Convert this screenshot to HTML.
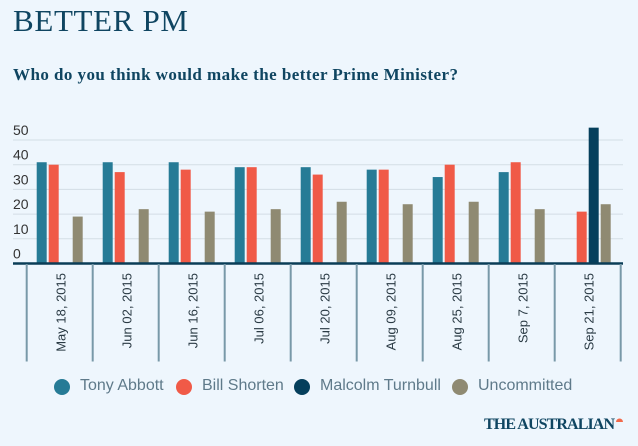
<!DOCTYPE html>
<html><head><meta charset="utf-8"><style>
body{margin:0;background:#eef6fd;}
svg{display:block;font-family:"Liberation Sans",sans-serif;}
</style></head><body>
<svg id="c" width="638" height="446" viewBox="0 0 638 446">
<rect width="638" height="446" fill="#eef6fd"/>
<text x="13" y="31" font-family="Liberation Serif, serif" font-size="31" fill="#0f4561" textLength="175">BETTER PM</text>
<text x="13" y="80" font-family="Liberation Serif, serif" font-weight="bold" font-size="17" fill="#0f4561" textLength="445">Who do you think would make the better Prime Minister?</text>
<g id="grid"></g><g id="bars"></g><g id="xaxis"></g>
<g id="legend"></g>
<text x="484" y="429" font-family="Liberation Serif, serif" font-weight="bold" font-size="16" fill="#0f4561" textLength="131">THE AUSTRALIAN</text>
<path d="M616 422 a3.5 3.5 0 0 1 7 0 z" fill="#f26a4b"/>
</svg>
<script>
const categories=["May 18, 2015","Jun 02, 2015","Jun 16, 2015","Jul 06, 2015","Jul 20, 2015","Aug 09, 2015","Aug 25, 2015","Sep 7, 2015","Sep 21, 2015"];
const abbott=[41,41,41,39,39,38,35,37,null];
const shorten=[40,37,38,39,36,38,40,41,21];
const turnbull=[null,null,null,null,null,null,null,null,55];
const uncommitted=[19,22,21,22,25,24,25,22,24];
const seriesNames=["Tony Abbott","Bill Shorten","Malcolm Turnbull","Uncommitted"];
const yTicks=[0,10,20,30,40,50];

const NS="http://www.w3.org/2000/svg";
const colors=["#267b96","#f05a47","#053f5c","#8f8a72"];
const series=[abbott,shorten,turnbull,uncommitted];
const x0=26.7,gw=66,y0=263.5,k=2.47;
const yS=v=>y0-v*k;
const xG=i=>x0+i*gw;
function mk(t,a,p){const e=document.createElementNS(NS,t);for(const q in a)e.setAttribute(q,a[q]);p.appendChild(e);return e;}
const grid=document.getElementById('grid');
yTicks.forEach(v=>{
  if(v>0){const l=mk('line',{x1:13,x2:623,y1:yS(v),y2:yS(v),stroke:'#d3dde5','stroke-width':1},grid);
  
  }
  const t=mk('text',{x:13,y:yS(v)-5,'font-size':14,fill:'#333'},grid);t.textContent=v;
  
  
});
const bars=document.getElementById('bars');
categories.forEach((c,i)=>{
  series.forEach((s,j)=>{
    const v=s[i]; if(v==null) return;
    const r=mk('rect',{x:xG(i)+10+j*12,y:yS(v),width:10,height:v*k,fill:colors[j]},bars);
    
    
  });
});
const xa=document.getElementById('xaxis');
const al=mk('line',{x1:13,x2:623,y1:263.5,y2:263.5,stroke:'#0a3d57','stroke-width':2.5},xa);


for(let i=0;i<=categories.length;i++){
  const l=mk('line',{x1:xG(i),x2:xG(i),y1:264,y2:361.5,stroke:'#7899a8','stroke-width':2},xa);
  
  
}
categories.forEach((c,i)=>{
  const cx=xG(i)+gw/2+1,cy=273;
  const t=mk('text',{x:cx,y:cy,'font-size':13,fill:'#2a3a44','text-anchor':'end',transform:`rotate(-90 ${cx} ${cy}) translate(0 5)`},xa);
  t.textContent=c;
  
  
});
const lg=document.getElementById('legend');
const lx=[62,184,302,460];
seriesNames.forEach((n,j)=>{
  const g=mk('g',{},lg);
  
  
  mk('circle',{cx:lx[j],cy:387,r:8,fill:colors[j]},g);
  const t=mk('text',{x:lx[j]+18,y:390,'font-size':16,fill:'#5f7a8a'},g);t.textContent=n;
});
</script>
</body></html>
